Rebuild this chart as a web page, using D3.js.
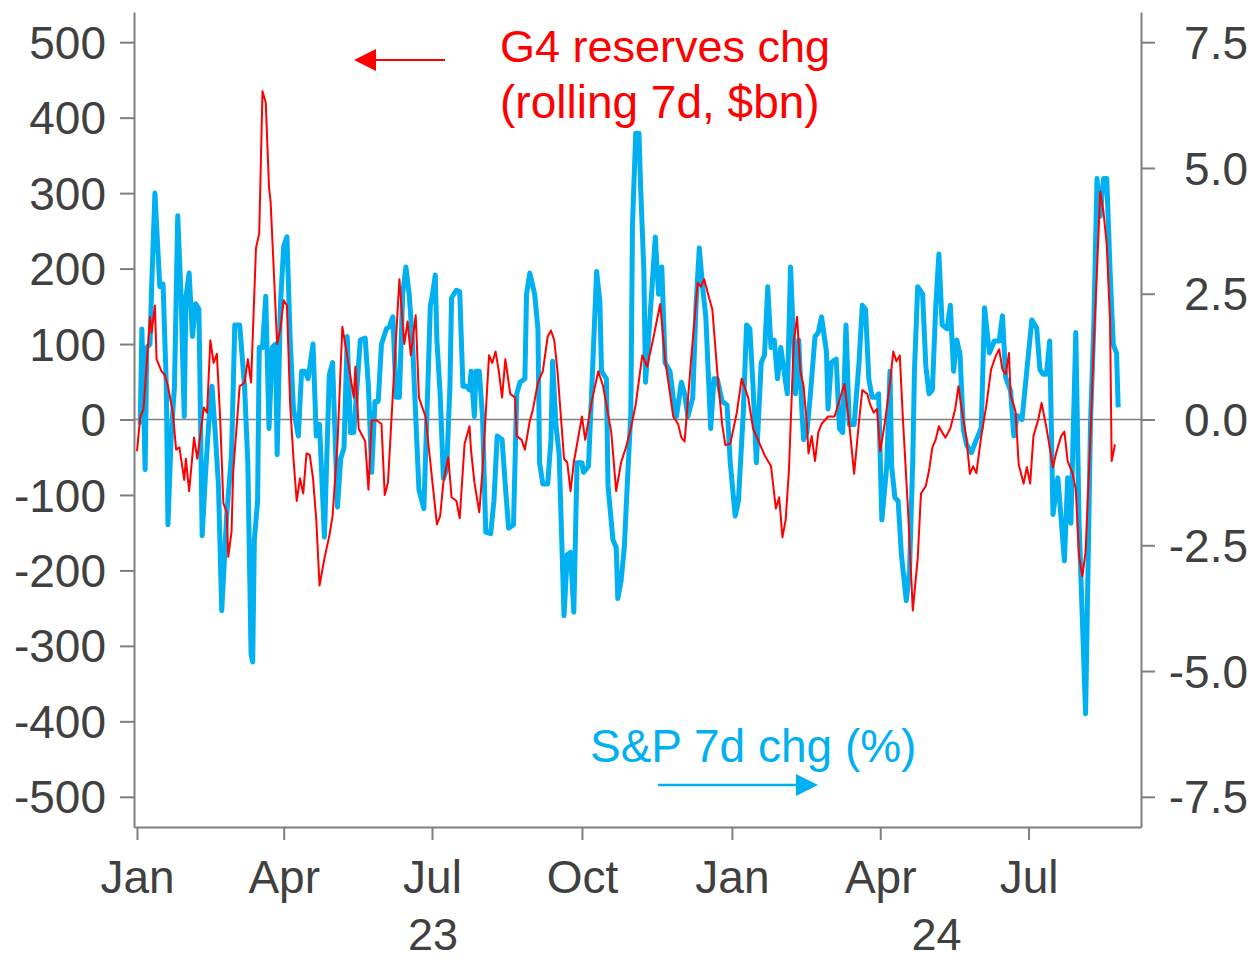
<!DOCTYPE html>
<html>
<head>
<meta charset="utf-8">
<script src="https://cdn.jsdelivr.net/npm/d3@7"></script>
<style>
  html, body { margin: 0; padding: 0; background: #fff; }
  svg { display: block; }
</style>
</head>
<body>
<svg id="chart" width="1257" height="961"></svg>
<script>
// G4 FX reserves (rolling 7d chg, $bn) vs S&P 500 7d chg (%), Jan 2023 - Aug 2024.
// Points are [days since 1 Jan 2023, value].
const baseDate = new Date(2023, 0, 1);

const g4Reserves = [
  [0,-42],[2,3],[4,14],[8,136],[9,115],[11,151],[12,80],[15,64],[17,59],[19,44],
  [22,9],[24,-40],[26,-37],[29,-80],[30,-52],[32,-95],[35,-24],[37,-52],[41,16],[43,9],
  [45,105],[47,75],[49,87],[51,3],[53,-111],[55,-123],[56,-182],[58,-149],[59,-70],[63,44],
  [66,49],[68,80],[70,49],[73,227],[75,247],[77,435],[79,420],[81,308],[82,288],[86,100],
  [88,120],[90,158],[92,151],[94,19],[96,-52],[98,-108],[100,-78],[102,-98],[104,-45],[106,-47],
  [108,-78],[110,-133],[112,-220],[115,-184],[118,-154],[120,-128],[123,-32],[126,123],[130,70],[133,29],
  [134,70],[136,-12],[140,-29],[142,-93],[144,-1],[147,-1],[150,-6],[152,-100],[154,-83],[157,34],
  [161,186],[164,100],[166,130],[168,85],[171,138],[173,29],[177,4],[180,-57],[184,-139],[186,-128],
  [188,-83],[191,-50],[193,-103],[196,-108],[198,-131],[201,-32],[204,-9],[205,-42],[207,-83],[210,-123],
  [212,-67],[216,85],[218,75],[220,90],[222,64],[224,29],[226,80],[229,34],[232,29],[233,-22],
  [236,-27],[238,-40],[241,-2],[243,14],[246,49],[249,64],[252,110],[254,118],[256,105],[258,64],
  [262,-52],[264,-57],[266,-95],[268,-57],[273,4],[275,-27],[279,24],[283,64],[286,44],[291,-17],
  [294,-95],[297,-57],[300,-37],[303,-12],[306,20],[310,85],[313,70],[317,110],[321,153],[324,80],
  [329,4],[332,-6],[334,-24],[336,-29],[340,80],[344,181],[346,176],[348,186],[351,161],[353,146],
  [356,64],[359,-6],[361,-34],[364,-32],[368,9],[371,54],[375,29],[378,-12],[382,-32],[385,-47],
  [389,-62],[392,-118],[394,-103],[396,-156],[398,-133],[400,-67],[403,105],[405,136],[407,64],[409,44],
  [411,-6],[412,-45],[414,-22],[416,-55],[418,-17],[420,-6],[424,4],[428,4],[434,47],[437,-6],
  [440,-72],[443,-2],[445,39],[448,34],[450,19],[452,9],[454,14],[456,-42],[459,-2],[462,49],
  [464,90],[466,77],[468,85],[470,-2],[473,-118],[476,-253],[479,-184],[481,-98],[484,-88],[486,-67],
  [488,-37],[490,-27],[492,-9],[494,-17],[496,-24],[499,-12],[502,14],[504,44],[506,14],[509,-27],
  [511,-72],[513,-62],[515,-71],[518,-22],[521,17],[524,66],[527,85],[529,93],[531,66],[533,60],
  [535,88],[536,33],[539,11],[541,-60],[544,-85],[546,-63],[548,-85],[550,-22],[553,0],[555,22],
  [558,-11],[562,-63],[564,-44],[567,-22],[569,-16],[571,-55],[574,-71],[576,-93],[578,-181],[580,-208],
  [582,-175],[585,-22],[587,99],[589,198],[591,302],[593,275],[595,231],[597,132],[598,-55],[599,-45],
  [600,-33]
];

const sp7d = [
  [2,-0.1],[3,1.8],[5,-1.0],[6,1.43],[8,1.5],[9,2.64],[11,4.5],[14,2.64],[16,2.69],[18,0.66],
  [19,-2.09],[21,-0.33],[23,0.66],[25,4.05],[27,2.49],[29,0.06],[30,2.42],[32,2.91],[34,1.65],[36,2.3],
  [38,2.19],[40,-2.31],[42,-1.1],[44,-0.1],[46,0.66],[48,-0.26],[50,-1.32],[52,-3.8],[55,-1.92],[58,-0.7],
  [60,1.88],[63,1.88],[66,0.66],[68,-0.86],[70,-4.67],[71,-4.82],[72,-2.39],[74,-1.62],[75,1.43],[77,1.43],
  [79,2.45],[81,-0.18],[83,1.43],[85,1.5],[86,-0.7],[88,2.27],[90,3.44],[92,3.63],[94,1.58],[96,0.21],
  [99,-0.33],[101,0.96],[103,0.96],[105,0.81],[108,1.5],[110,-0.33],[112,-0.1],[115,-2.34],[118,0.89],[120,1.13],
  [123,-1.74],[125,-0.78],[127,-0.56],[129,1.65],[131,-0.26],[133,-0.26],[137,1.58],[140,1.62],[142,0.66],[144,-1.05],
  [146,0.36],[148,0.36],[150,1.5],[153,1.8],[155,1.85],[157,2.04],[159,0.44],[161,0.44],[163,2.49],[165,3.03],
  [167,2.49],[169,1.58],[171,0.06],[173,-1.4],[176,-1.77],[178,0.21],[180,2.27],[181,2.42],[183,2.87],[184,1.58],
  [186,0.51],[188,-1.17],[190,-1.0],[192,0.66],[193,2.42],[196,2.57],[198,2.54],[200,0.66],[202,0.66],[204,0.59],
  [205,0.96],[207,0.06],[208,0.96],[210,0.96],[212,0.06],[214,-2.24],[217,-2.27],[219,-1.62],[221,-0.33],[224,-0.4],
  [226,-1.32],[228,-2.16],[231,-2.09],[233,0.51],[235,0.74],[238,0.81],[239,2.49],[241,2.91],[244,2.49],[246,1.8],
  [247,-0.86],[249,-1.28],[252,-1.28],[254,-0.4],[255,1.16],[257,-0.1],[259,-0.68],[262,-3.9],[264,-2.69],[266,-2.64],
  [268,-3.83],[270,-0.86],[273,-0.86],[274,-1.05],[277,-0.93],[279,0.59],[282,2.94],[284,2.34],[285,0.96],[288,0.81],
  [289,-1.32],[292,-2.39],[294,-2.54],[295,-3.56],[297,-3.21],[299,-2.54],[301,-1.17],[303,0.14],[304,3.86],[306,5.69],
  [308,5.69],[309,4.62],[311,2.94],[312,0.74],[313,1.2],[316,2.64],[318,3.63],[320,2.49],[322,3.03],[324,1.13],
  [327,0.96],[329,0.44],[331,0.06],[334,0.74],[336,0.51],[338,0.06],[341,0.44],[343,2.27],[345,3.41],[347,2.64],
  [349,2.04],[352,-0.18],[354,0.81],[356,0.81],[359,0.36],[362,0.29],[364,-0.86],[367,-1.92],[369,-1.62],[372,0.14],
  [374,1.88],[376,1.8],[378,0.66],[380,-0.86],[383,1.13],[385,1.28],[387,2.64],[389,1.43],[391,1.58],[393,0.81],
  [395,1.43],[397,0.96],[399,0.51],[401,3.03],[403,1.43],[404,0.51],[406,1.58],[408,0.14],[409,-0.4],[411,-0.26],
  [413,0.44],[416,1.65],[418,1.73],[420,2.04],[423,1.35],[424,0.21],[426,1.13],[429,1.2],[431,-0.18],[433,-0.26],
  [435,1.88],[437,-0.1],[440,-0.1],[443,1.13],[445,2.27],[447,2.19],[449,0.81],[451,0.44],[453,0.44],[455,0.51],
  [457,-2.0],[460,-0.93],[462,0.96],[463,-0.93],[465,-1.55],[467,-1.62],[469,-2.69],[472,-3.6],[474,-2.99],[476,-0.78],
  [477,0.96],[479,2.64],[482,2.49],[484,1.05],[486,0.51],[488,0.59],[490,2.19],[492,3.29],[494,1.88],[497,1.8],
  [499,2.27],[501,0.96],[503,1.58],[505,1.28],[507,-0.2],[509,-0.5],[512,-0.66],[515,-0.4],[518,-0.17],[520,2.22],
  [523,1.32],[526,1.56],[529,1.56],[531,2.06],[533,0.83],[536,0.57],[538,-0.33],[540,0.08],[543,0],[546,0.99],
  [549,1.98],[552,1.82],[554,0.99],[556,0.9],[558,0.9],[560,1.56],[562,-1.89],[565,-1.16],[567,-1.98],[569,-2.81],
  [571,-1.16],[573,-2.06],[576,1.73],[578,-2.06],[580,-3.95],[582,-5.85],[585,-0.08],[587,1.82],[589,4.79],[591,4.04],
  [593,4.79],[595,4.79],[597,2.97],[599,1.49],[601,1.32],[602,0.24]
];

const leftTicks = [-500, -400, -300, -200, -100, 0, 100, 200, 300, 400, 500];
const rightTicks = [-7.5, -5.0, -2.5, 0.0, 2.5, 5.0, 7.5];
const yearLabels = ["23", "24"];
const g4Label = ["G4 reserves chg", "(rolling 7d, $bn)"];
const spLabel = "S&P 7d chg (%)";

(function () {
    const svg = d3.select("#chart");
    const FONT = "'Liberation Sans', Arial, sans-serif";
    const AXIS = "#7f7f7f", TXT = "#404040";
    const RED = "#ff0000", BLUE = "#00b0f0";

    // plot frame
    const L = 134, R = 1141, T = 12, B = 827;

    const x = d3.scaleTime()
        .domain([new Date(2022, 11, 30, 4), new Date(2024, 8, 8, 0)])
        .range([L, R]);
    const yL = d3.scaleLinear().domain([-540, 540]).range([B, T]);
    const yR = d3.scaleLinear().domain([-8.1, 8.1]).range([B, T]);

    const day = d => d3.timeDay.offset(baseDate, d);

    // zero line
    svg.append("line")
        .attr("x1", L).attr("x2", R)
        .attr("y1", yL(0)).attr("y2", yL(0))
        .attr("stroke", "#808080").attr("stroke-width", 1.5);

    // series: S&P (right axis) underneath, reserves (left axis) on top
    const spLine = d3.line().x(d => x(day(d[0]))).y(d => yR(d[1]));
    svg.append("path")
        .datum(sp7d)
        .attr("d", spLine)
        .attr("fill", "none")
        .attr("stroke", BLUE)
        .attr("stroke-width", 5)
        .attr("stroke-linejoin", "round");

    const g4Line = d3.line().x(d => x(day(d[0]))).y(d => yL(d[1]));
    svg.append("path")
        .datum(g4Reserves)
        .attr("d", g4Line)
        .attr("fill", "none")
        .attr("stroke", RED)
        .attr("stroke-width", 2)
        .attr("stroke-linejoin", "round");

    // axes
    function styleAxis(g) {
        g.select(".domain").attr("stroke", AXIS).attr("stroke-width", 2);
        g.selectAll(".tick line").attr("stroke", AXIS).attr("stroke-width", 2);
        g.selectAll(".tick text")
            .attr("fill", TXT)
            .attr("font-family", FONT)
            .attr("font-size", 46);
    }

    const gLeft = svg.append("g")
        .attr("transform", `translate(${L},0)`)
        .call(d3.axisLeft(yL).tickValues(leftTicks).tickFormat(d => String(d))
            .tickSize(14).tickSizeOuter(0).tickPadding(14));
    styleAxis(gLeft);
    gLeft.selectAll(".tick text").attr("dy", "0.35em");

    const gRight = svg.append("g")
        .attr("transform", `translate(${R},0)`)
        .call(d3.axisRight(yR).tickValues(rightTicks).tickFormat(d => d.toFixed(1))
            .tickSize(14).tickSizeOuter(0));
    styleAxis(gRight);
    gRight.selectAll(".tick text")
        .attr("text-anchor", "end")
        .attr("x", 1248 - R)
        .attr("dy", "0.35em");

    const gBottom = svg.append("g")
        .attr("transform", `translate(0,${B})`)
        .call(d3.axisBottom(x).ticks(d3.timeMonth.every(3)).tickFormat(d3.timeFormat("%b"))
            .tickSize(13).tickSizeOuter(0));
    styleAxis(gBottom);
    gBottom.selectAll(".tick text").attr("y", 66).attr("dy", 0);

    // year labels centred on the visible part of each year
    const yearSpans = [
        [x.domain()[0], new Date(2024, 0, 1)],
        [new Date(2024, 0, 1), x.domain()[1]]
    ];
    svg.selectAll("text.year")
        .data(yearLabels)
        .join("text")
        .attr("class", "year")
        .attr("x", (d, i) => (x(yearSpans[i][0]) + x(yearSpans[i][1])) / 2)
        .attr("y", 950)
        .attr("text-anchor", "middle")
        .attr("font-family", FONT).attr("font-size", 45)
        .attr("fill", TXT)
        .text(d => d);

    // annotations
    svg.append("line")
        .attr("x1", 445).attr("x2", 372).attr("y1", 60).attr("y2", 60)
        .attr("stroke", RED).attr("stroke-width", 2);
    svg.append("path")
        .attr("d", "M354,60 L376,49 L376,71 Z")
        .attr("fill", RED);
    svg.selectAll("text.g4")
        .data(g4Label)
        .join("text")
        .attr("class", "g4")
        .attr("x", 500)
        .attr("y", (d, i) => 62 + i * 56)
        .attr("font-family", FONT).attr("font-size", (d, i) => i === 0 ? 45 : 46)
        .attr("fill", RED)
        .text(d => d);

    svg.append("text")
        .attr("x", 590).attr("y", 762)
        .attr("font-family", FONT).attr("font-size", 46)
        .attr("fill", BLUE)
        .text(spLabel);
    svg.append("line")
        .attr("x1", 658).attr("x2", 800).attr("y1", 785).attr("y2", 785)
        .attr("stroke", BLUE).attr("stroke-width", 2.5);
    svg.append("path")
        .attr("d", "M818,785 L796,774 L796,796 Z")
        .attr("fill", BLUE);
})();
</script>
</body>
</html>
